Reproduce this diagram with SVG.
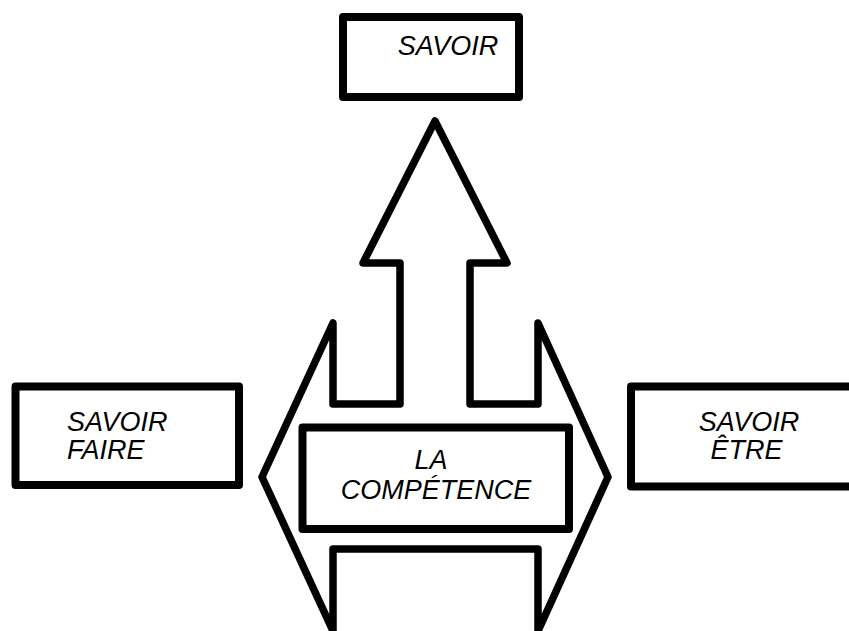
<svg xmlns="http://www.w3.org/2000/svg" width="849" height="631" viewBox="0 0 849 631">
<style>
.box{fill:#fff;stroke:#000;stroke-width:8;stroke-linejoin:round}
.arrow{fill:#fff;stroke:#000;stroke-width:7.5;stroke-linejoin:round}
.t{font-family:"Liberation Sans",Arial,sans-serif;font-style:italic;font-size:27px;fill:#000}
</style>
<rect width="849" height="631" fill="#fff"/>
<g id="connectors">
<path class="arrow" d="M435,121 L507,263 L470,263 L470,404 L538,404 L538,323 L608,477 L538,631 L538,549 L333,549 L333,631 L262,477 L333,323 L333,404 L400,404 L400,263 L363,263 Z"/>
</g>
<g id="savoir">
<rect class="box" x="343" y="17" width="176" height="80"/>
<text class="t" x="448" y="55" text-anchor="middle">SAVOIR</text>
</g>
<g id="savoir-faire">
<rect class="box" x="15.5" y="386.5" width="223.5" height="98.5"/>
<text class="t" x="67" y="431">SAVOIR</text>
<text class="t" x="67" y="459">FAIRE</text>
</g>
<g id="savoir-etre">
<rect class="box" x="631" y="386.5" width="226" height="100"/>
<text class="t" x="749" y="431" text-anchor="middle">SAVOIR</text>
<text class="t" x="746.5" y="459" text-anchor="middle">ÊTRE</text>
</g>
<g id="competence">
<rect class="box" x="302.5" y="427.5" width="266.5" height="101.5"/>
<text class="t" x="431" y="469" text-anchor="middle">LA</text>
<text class="t" x="436" y="499" text-anchor="middle">COMPÉTENCE</text>
</g>
</svg>
